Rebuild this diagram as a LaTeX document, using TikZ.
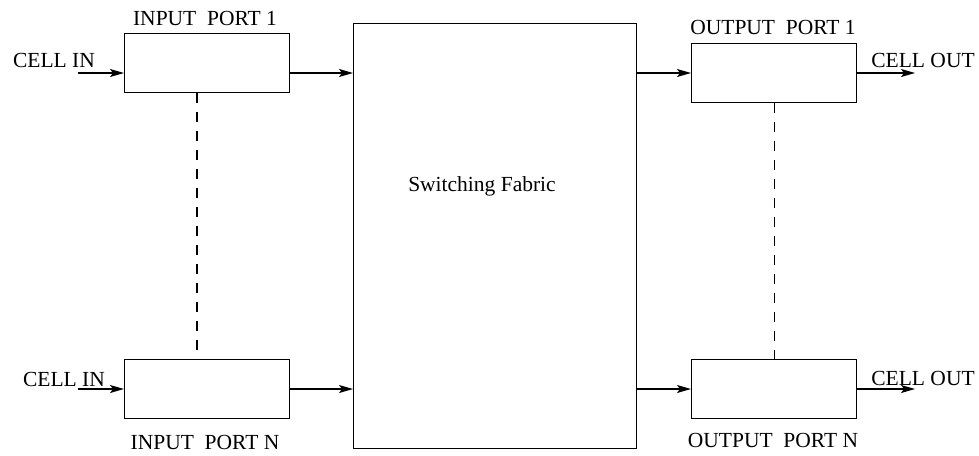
\documentclass[tikz,border=0pt]{standalone}
\usepackage{fontspec}
\setmainfont{Liberation Serif}
\usetikzlibrary{arrows.meta}
\begin{document}
\begin{tikzpicture}[x=1pt,y=-1pt,
  line width=1.3pt,
  box/.style={draw, rectangle, minimum width=165pt, minimum height=59pt, inner sep=0pt, anchor=north west},
  lbl/.style={font=\fontsize{21.5}{24}\selectfont, inner sep=0pt},
  arr/.style={-{Stealth[length=14pt,width=8pt,inset=3pt]}},
  dashline/.style={line width=1.1pt, dash pattern=on 10pt off 9pt}]
\useasboundingbox (0,0) rectangle (979,455);
% boxes
\node[box] (in1) at (124,33) {};
\node[box] (inN) at (124,359) {};
\node[box] (out1) at (691,43) {};
\node[box] (outN) at (691,359) {};
\node[draw, rectangle, minimum width=283pt, minimum height=425pt, inner sep=0pt, anchor=north west] (fab) at (353,23) {};
% labels
\node[lbl] (tfab) at (482,186) {Switching Fabric};
\node[lbl] (tin1) at (205,18) {INPUT\ \ PORT 1};
\node[lbl] (tinN) at (205,442) {INPUT\ \ PORT N};
\node[lbl] (tout1) at (773,27) {OUTPUT\ \ PORT 1};
\node[lbl] (toutN) at (773,440) {OUTPUT\ \ PORT N};
\node[lbl] (ci1) at (54,60) {CELL IN};
\node[lbl] (ciN) at (64,379) {CELL IN};
\node[lbl] (co1) at (923,60) {CELL OUT};
\node[lbl] (coN) at (923,378) {CELL OUT};
% free ends
\coordinate (s1) at (78,73);
\coordinate (sN) at (78,389);
\coordinate (e1) at (915,73);
\coordinate (eN) at (915,389);
\coordinate (dx) at (197,0);
% arrows
\draw[arr] (s1) -- (s1 -| in1.west);
\draw[arr] (sN) -- (sN -| inN.west);
\draw[arr] (in1.east |- s1) -- (fab.west |- s1);
\draw[arr] (inN.east |- sN) -- (fab.west |- sN);
\draw[arr] (fab.east |- s1) -- (out1.west |- s1);
\draw[arr] (fab.east |- sN) -- (outN.west |- sN);
\draw[arr] (out1.east |- e1) -- (e1);
\draw[arr] (outN.east |- eN) -- (eN);
% dashed
\draw[dashline] (dx |- in1.south) -- (dx |- inN.north);
\draw[dashline] (out1.south) -- (outN.north);
\end{tikzpicture}
\end{document}
